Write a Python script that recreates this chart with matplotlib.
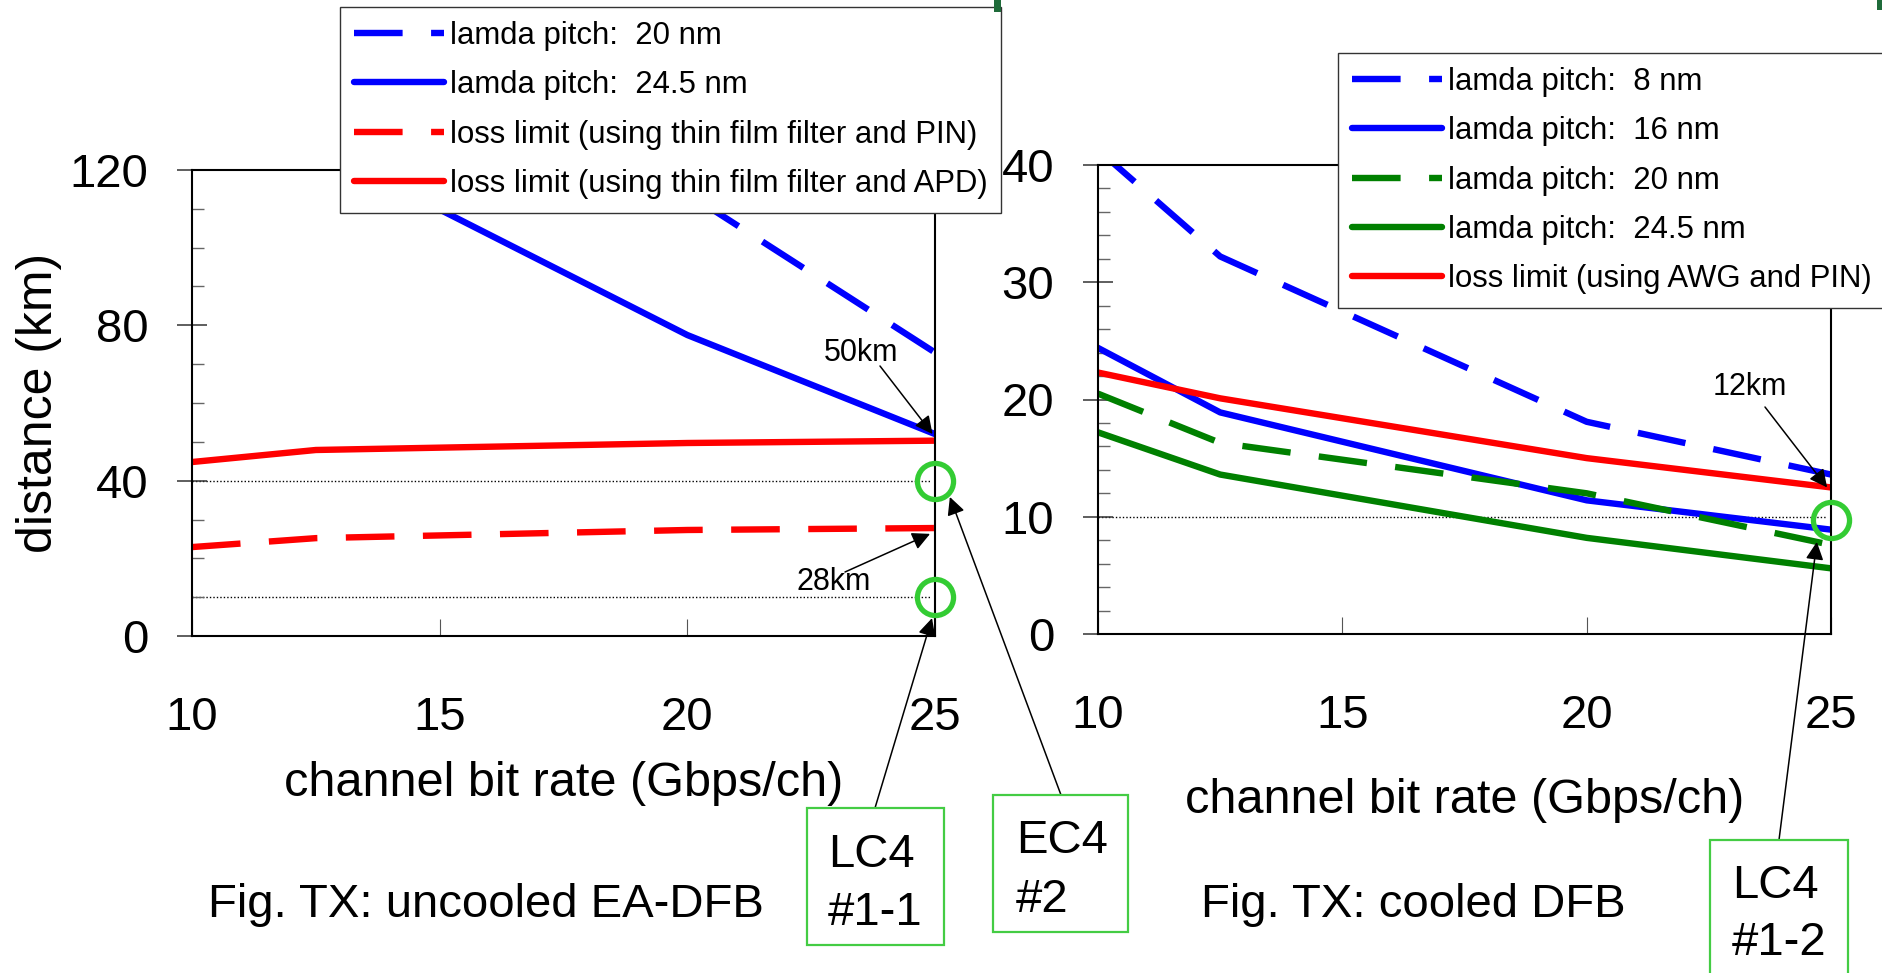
import matplotlib.pyplot as plt
import matplotlib.patches as patches
from matplotlib.ticker import MultipleLocator

plt.rcParams['font.family'] = ['Liberation Sans', 'DejaVu Sans']
plt.rcParams['lines.scale_dashes'] = False

W, H = 1883, 973  # figure size in pixels

# ---- data ----
rate = [10, 12.5, 20, 25]  # channel bit rate (Gbps/ch)

# uncooled EA-DFB
ea_pitch20 = [160, 145, 114, 73]
ea_pitch245 = [140, 126, 77.5, 52]
ea_loss_pin = [22.9, 25.2, 27.3, 27.8]
ea_loss_apd = [44.8, 47.9, 49.7, 50.3]

# cooled DFB
dfb_pitch8 = [41.3, 32.2, 18.1, 13.6]
dfb_pitch16 = [24.4, 18.9, 11.4, 8.9]
dfb_pitch20 = [20.5, 16.3, 12.0, 7.6]
dfb_pitch245 = [17.2, 13.6, 8.2, 5.6]
dfb_loss_awg = [22.3, 20.1, 15.0, 12.5]

ea_ref = [40, 10]
dfb_ref = [10]
ea_marks = [40, 10]
dfb_marks = [9.7]

left_labels = ['lamda pitch:  20 nm', 'lamda pitch:  24.5 nm',
               'loss limit (using thin film filter and PIN)',
               'loss limit (using thin film filter and APD)']
right_labels = ['lamda pitch:  8 nm', 'lamda pitch:  16 nm', 'lamda pitch:  20 nm',
                'lamda pitch:  24.5 nm', 'loss limit (using AWG and PIN)']

BLUE, RED, GREEN = '#0000FF', '#FF0000', '#008000'
CIRC = '#33CC33'
DASH = (0, (35, 20.5))
LW = 4.6


def fig_rect(x0, y0, x1, y1):
    # pixel box (y from top) -> figure fraction [l, b, w, h]
    return [x0 / W, 1 - y1 / H, (x1 - x0) / W, (y1 - y0) / H]


fig = plt.figure(figsize=(W / 100, H / 100), dpi=100)
ax1 = fig.add_axes(fig_rect(192, 170, 935, 636))
ax2 = fig.add_axes(fig_rect(1098, 165, 1831, 634))

l1 = ax1.plot(rate, ea_pitch20, color=BLUE, lw=LW, ls=DASH)[0]
l2 = ax1.plot(rate, ea_pitch245, color=BLUE, lw=LW)[0]
l3 = ax1.plot(rate, ea_loss_pin, color=RED, lw=LW, ls=DASH)[0]
l4 = ax1.plot(rate, ea_loss_apd, color=RED, lw=LW)[0]

r1 = ax2.plot(rate, dfb_pitch8, color=BLUE, lw=LW, ls=DASH)[0]
r2 = ax2.plot(rate, dfb_pitch16, color=BLUE, lw=LW)[0]
r3 = ax2.plot(rate, dfb_pitch20, color=GREEN, lw=LW, ls=DASH)[0]
r4 = ax2.plot(rate, dfb_pitch245, color=GREEN, lw=LW)[0]
r5 = ax2.plot(rate, dfb_loss_awg, color=RED, lw=LW)[0]

for v in ea_ref:
    ax1.plot([10, 24.9], [v, v], color='k', lw=1.0, ls=(0, (1, 1.5)), zorder=1)
for v in dfb_ref:
    ax2.plot([10, 24.9], [v, v], color='k', lw=1.0, ls=(0, (1, 1.5)), zorder=1)

for v in ea_marks:
    ax1.plot(25, v, 'o', mfc='none', mec=CIRC, ms=26, mew=3.8, clip_on=False, zorder=5)
for v in dfb_marks:
    ax2.plot(25, v, 'o', mfc='none', mec=CIRC, ms=26, mew=3.8, clip_on=False, zorder=5)

for ax, top, step, minor in ((ax1, 120, 40, 10), (ax2, 40, 10, 2)):
    ax.set_xlim(10, 25)
    ax.set_ylim(0, top)
    ax.set_xticks([10, 15, 20, 25])
    ax.yaxis.set_major_locator(MultipleLocator(step))
    ax.yaxis.set_minor_locator(MultipleLocator(minor))
    ax.tick_params(axis='x', which='major', direction='in', length=12, width=0.8,
                   color='#555555', pad=43.5, labelsize=34)
    ax.tick_params(axis='y', which='major', direction='inout', length=21, width=1.1,
                   color='#333333', pad=21, labelsize=34)
    ax.tick_params(axis='y', which='minor', direction='in', length=8.6, width=1.0,
                   color='#666666')
    for s in ax.spines.values():
        s.set_linewidth(1.5)
        s.set_color('k')
        s.set_zorder(3)

ax1.set_ylabel('distance (km)', fontsize=36)
ax1.yaxis.set_label_coords(-0.175, 0.5)
ax1.set_xlabel('channel bit rate (Gbps/ch)', fontsize=35)
ax1.xaxis.set_label_coords(0.5, -0.343)
ax1.xaxis.label.set_va('baseline')
ax2.set_xlabel('channel bit rate (Gbps/ch)', fontsize=35)
ax2.xaxis.set_label_coords(0.5, -0.382)
ax2.xaxis.label.set_va('baseline')

leg_kw = dict(loc='upper left', bbox_transform=fig.transFigure, borderaxespad=0,
              fontsize=22.4, handlelength=2.9, handletextpad=0.17, borderpad=0.45,
              labelspacing=0.62, frameon=True, fancybox=False, edgecolor='#333333',
              framealpha=1)
leg1 = ax1.legend([l1, l2, l3, l4], left_labels, bbox_to_anchor=(340 / W, 1 - 7 / H), **leg_kw)
leg2 = ax2.legend([r1, r2, r3, r4, r5], right_labels, bbox_to_anchor=(1338 / W, 1 - 53 / H), **leg_kw)
for leg in (leg1, leg2):
    leg.get_frame().set_linewidth(1.0)
    leg.set_zorder(10)
    for ln in leg.get_lines():
        ln.set_solid_capstyle('round')

# km annotations
arw = dict(arrowstyle='-|>,head_length=0.6,head_width=0.3', color='k', lw=1.1,
           mutation_scale=18, shrinkA=0, shrinkB=0)
fig.text(861 / W, 1 - 353 / H, '50km', fontsize=22, ha='center', va='center')
ax1.annotate('', xy=(24.95, 52), xytext=(880, H - 366), textcoords='figure pixels',
             arrowprops=arw, annotation_clip=False)
fig.text(834 / W, 1 - 582 / H, '28km', fontsize=22, ha='center', va='center')
ax1.annotate('', xy=(24.9, 26.3), xytext=(845, H - 572), textcoords='figure pixels',
             arrowprops=arw, annotation_clip=False)
fig.text(1750 / W, 1 - 387 / H, '12km', fontsize=22, ha='center', va='center')
ax2.annotate('', xy=(24.92, 12.5), xytext=(1765, H - 407), textcoords='figure pixels',
             arrowprops=arw, annotation_clip=False)

# device boxes with long arrows
boxes = [
    (ax1, (807, 808, 944, 945), 828, ('LC4', '#1-1'), (867, 925), (875, 808), (24.94, 4.6)),
    (ax1, (993, 795, 1128, 932), 1016, ('EC4', '#2'), (853, 912), (1061, 795), (25.3, 35.8)),
    (ax2, (1710, 840, 1848, 990), 1732, ('LC4', '#1-2'), (898, 955), (1779, 840), (24.71, 7.85)),
]
for ax, (x0, y0, x1, y1), tx, lines, bases, start, tip in boxes:
    fig.add_artist(patches.Rectangle((x0 / W, 1 - y1 / H), (x1 - x0) / W, (y1 - y0) / H,
                                     transform=fig.transFigure, fill=False,
                                     edgecolor='#44CC44', lw=1.6))
    for txt, b in zip(lines, bases):
        fig.text(tx / W, 1 - b / H, txt, fontsize=34, ha='left', va='baseline')
    ax.annotate('', xy=tip, xytext=(start[0], H - start[1]), textcoords='figure pixels',
                arrowprops=arw, annotation_clip=False)

fig.text(208 / W, 1 - 917 / H, 'Fig. TX: uncooled EA-DFB', fontsize=34, va='baseline')
fig.text(1201 / W, 1 - 917 / H, 'Fig. TX: cooled DFB', fontsize=34, va='baseline')

# leftover bits of the slide title at the top edge
for x0, x1, y1 in ((994, 1001, 12), (1877, 1883, 10)):
    fig.add_artist(patches.Rectangle((x0 / W, 1 - y1 / H), (x1 - x0) / W, y1 / H,
                                     transform=fig.transFigure, color='#1F6B3A', lw=0))

fig.savefig('out.png', dpi=100)
